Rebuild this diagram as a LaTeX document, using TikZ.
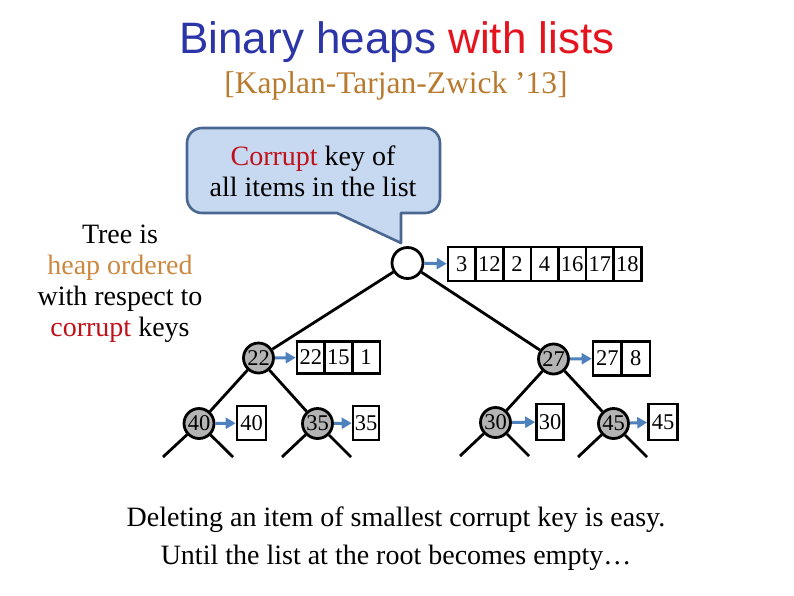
\documentclass[tikz,border=0pt]{standalone}
\usepackage{fontspec}
\setmainfont{Liberation Serif}
\newfontfamily\titlesans{Liberation Sans}
\usetikzlibrary{arrows.meta}
\definecolor{tblue}{RGB}{43,53,168}
\definecolor{tred}{RGB}{227,20,30}
\definecolor{tbrown}{RGB}{184,122,46}
\definecolor{horange}{RGB}{204,136,64}
\definecolor{cred}{RGB}{192,16,24}
\definecolor{cofill}{RGB}{198,217,241}
\definecolor{coline}{RGB}{74,103,146}
\definecolor{lnkblue}{RGB}{79,129,189}
\definecolor{ngray}{RGB}{180,180,180}
\tikzset{
  heapnode/.style={circle,draw,line width=2.8pt,fill=ngray,minimum size=30pt,inner sep=0pt,font=\fontsize{22.5}{22.5}\selectfont},
  rootnode/.style={heapnode,fill=white,minimum size=31pt},
  cell/.style={draw,line width=2.6pt,minimum width=27.6pt,minimum height=34pt,inner sep=0pt,font=\fontsize{22.5}{22.5}\selectfont},
  lnk/.style={draw=lnkblue,line width=3pt,-{Triangle[length=10pt,width=11pt]}},
  treeedge/.style={line width=2.8pt},
  callout/.style={fill=cofill,draw=coline,line width=2.6pt,line join=round},
  bodytext/.style={font=\fontsize{28}{31}\selectfont,align=center},
}
\begin{document}
\begin{tikzpicture}[x=1pt,y=-1pt]
\path[use as bounding box] (0,0) rectangle (794,595);

% title
\node (title) at (397,42) {\titlesans\fontsize{44}{44}\selectfont\textcolor{tblue}{Binary heaps} \textcolor{tred}{with lists}};
\node (sub) at (396,86) {\fontsize{31.5}{31.5}\selectfont\textcolor{tbrown}{[Kaplan-Tarjan-Zwick ’13]}};

% callout
\filldraw[callout] (300,128) [rounded corners=15pt] -- (187,128) -- (187,213) [sharp corners] -- (337,213) -- (401,243) -- (401,213) [rounded corners=15pt] -- (440,213) -- (440,128) [sharp corners] -- (300,128) -- cycle;
\node[bodytext] (ctext) at (313,171) {\textcolor{cred}{Corrupt} key of\\all items in the list};

% left text
\node[bodytext] (ltext) at (120,284) {Tree is\\\textcolor{horange}{heap ordered}\\with respect to\\\textcolor{cred}{corrupt} keys};

% tree nodes
\node[rootnode] (root) at (407.5,263) {};
\node[heapnode] (n22) at (258.5,358) {22};
\node[heapnode] (n27) at (553.5,359) {27};
\node[heapnode] (n40) at (199,423.5) {40};
\node[heapnode] (n35) at (317.5,423.5) {35};
\node[heapnode] (n30) at (495.5,422.5) {30};
\node[heapnode] (n45) at (613.5,423.5) {45};

% stub ends
\coordinate (s40a) at (163,457); \coordinate (s40b) at (233,457);
\coordinate (s35a) at (282,457); \coordinate (s35b) at (351,457);
\coordinate (s30a) at (460,456); \coordinate (s30b) at (529,456);
\coordinate (s45a) at (578,457); \coordinate (s45b) at (647,457);

\draw[treeedge] (root) -- (n22);
\draw[treeedge] (root) -- (n27);
\draw[treeedge] (n22) -- (n40);
\draw[treeedge] (n22) -- (n35);
\draw[treeedge] (n27) -- (n30);
\draw[treeedge] (n27) -- (n45);
\foreach \n in {40,35,30,45}{
  \draw[treeedge] (n\n) -- (s\n a);
  \draw[treeedge] (n\n) -- (s\n b);
}

% lists
\foreach \v [count=\i] in {3,12,2,4,16,17,18}
  \node[cell] (r\i) at ({448+13.8+27.6*(\i-1)},264) {\v};
\foreach \v [count=\i] in {22,15,1}
  \node[cell,minimum height=32pt] (a\i) at ({297+13.8+27.6*(\i-1)},357.5) {\v};
\foreach \v [count=\i] in {27,8}
  \node[cell,minimum width=28.5pt] (b\i) at ({593+14.25+28.5*(\i-1)},358.5) {\v};
\node[cell,minimum width=29pt] (c40) at (251.5,423) {40};
\node[cell,minimum width=26pt] (c35) at (366,423) {35};
\node[cell,minimum width=27pt,minimum height=36pt] (c30) at (550,422) {30};
\node[cell,minimum width=29pt,minimum height=36pt] (c45) at (663,422) {45};

% links
\draw[lnk] (root) -- (r1);
\draw[lnk] (n22) -- (a1);
\draw[lnk] (n27) -- (b1);
\draw[lnk] (n40) -- (c40);
\draw[lnk] (n35) -- (c35);
\draw[lnk] (n30) -- (c30);
\draw[lnk] (n45) -- (c45);

% bottom text
\node[font=\fontsize{28}{38}\selectfont,align=center] (btext) at (396,539) {Deleting an item of smallest corrupt key is easy.\\Until the list at the root becomes empty…};
\end{tikzpicture}
\end{document}
